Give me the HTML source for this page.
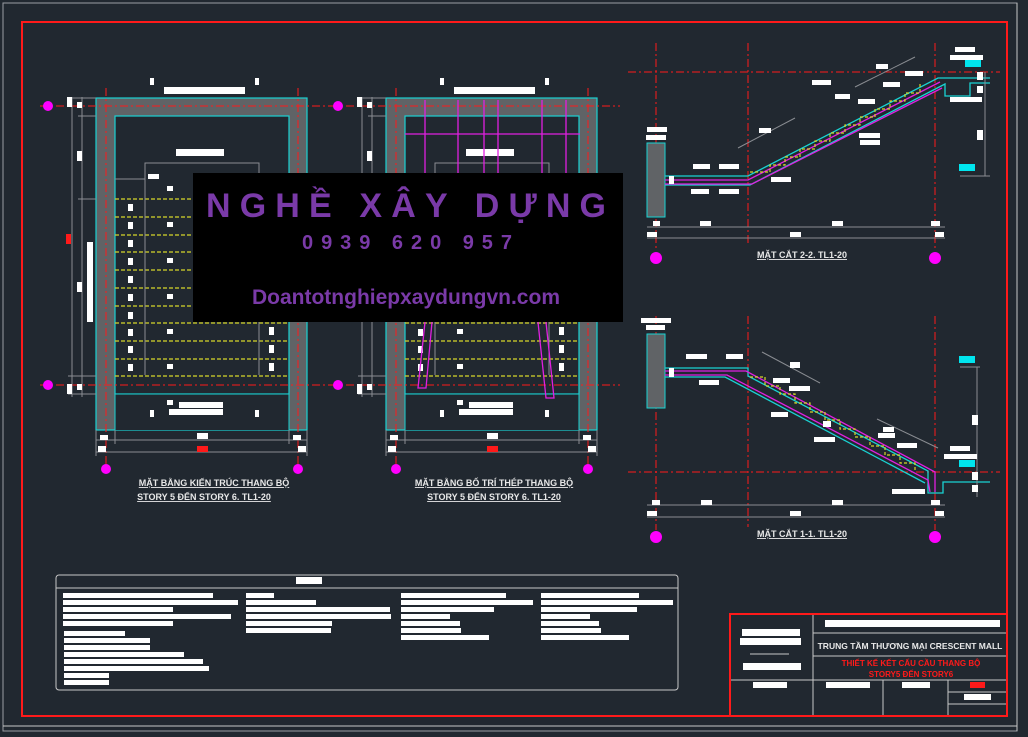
<!DOCTYPE html>
<html><head><meta charset="utf-8"><style>
html,body{margin:0;padding:0;background:#212830;}
svg{display:block;}
text{font-family:"Liberation Sans",sans-serif;}
</style></head><body>
<svg width="1028" height="737" viewBox="0 0 1028 737" xmlns="http://www.w3.org/2000/svg">
<defs>
<g id="plan">
<rect x="96" y="98" width="211" height="332" fill="#606366" stroke="#19d3d3" stroke-width="1.2"/>
<rect x="115" y="116" width="174" height="278" fill="#212830" stroke="#19d3d3" stroke-width="1.2"/>
<rect x="115" y="394" width="174" height="36" fill="#212830" stroke="none"/>
<line x1="115" y1="394" x2="289" y2="394" stroke="#19d3d3"/>
<line x1="115" y1="394" x2="115" y2="430" stroke="#19d3d3"/>
<line x1="289" y1="394" x2="289" y2="430" stroke="#19d3d3"/>
<g stroke="#d6d62a" stroke-dasharray="4,2" stroke-width="1.2">
<line x1="115" y1="199" x2="289" y2="199"/><line x1="115" y1="217" x2="289" y2="217"/><line x1="115" y1="235" x2="289" y2="235"/>
<line x1="115" y1="252" x2="289" y2="252"/><line x1="115" y1="270" x2="289" y2="270"/><line x1="115" y1="288" x2="289" y2="288"/>
<line x1="115" y1="306" x2="289" y2="306"/><line x1="115" y1="323" x2="289" y2="323"/><line x1="115" y1="341" x2="289" y2="341"/>
<line x1="115" y1="359" x2="289" y2="359"/><line x1="115" y1="376" x2="289" y2="376"/>
</g>
<g stroke="#ff1a1a" stroke-dasharray="8,3,2,3" stroke-width="1">
<line x1="40" y1="106" x2="330" y2="106"/><line x1="40" y1="385" x2="330" y2="385"/>
<line x1="106" y1="88" x2="106" y2="470"/><line x1="298" y1="88" x2="298" y2="470"/>
</g>
<g stroke="#8a8d92" fill="none">
<polyline points="145,375 145,163 259,163 259,375"/>
<line x1="115" y1="179" x2="145" y2="179"/>
<line x1="72" y1="97" x2="72" y2="397"/><line x1="82" y1="97" x2="82" y2="397"/>
<line x1="68" y1="98" x2="96" y2="98"/><line x1="78" y1="116" x2="96" y2="116"/><line x1="78" y1="199" x2="96" y2="199"/><line x1="68" y1="376" x2="96" y2="376"/><line x1="68" y1="394" x2="96" y2="394"/>
<line x1="96" y1="440" x2="307" y2="440"/><line x1="96" y1="452" x2="307" y2="452"/>
<line x1="96" y1="430" x2="96" y2="456"/><line x1="115" y1="430" x2="115" y2="444"/><line x1="289" y1="430" x2="289" y2="444"/><line x1="307" y1="430" x2="307" y2="456"/>
</g>
<g fill="#fff">
<rect x="164" y="87" width="81" height="7"/><rect x="176" y="149" width="48" height="7"/><rect x="148" y="174" width="11" height="5"/>
<rect x="67" y="97" width="5" height="10"/><rect x="77" y="102" width="5" height="6"/><rect x="77" y="151" width="5" height="10"/><rect x="87" y="242" width="6" height="80"/><rect x="77" y="282" width="5" height="10"/><rect x="67" y="384" width="5" height="10"/><rect x="77" y="384" width="5" height="6"/>
<rect x="128" y="204" width="5" height="7"/><rect x="128" y="222" width="5" height="7"/><rect x="128" y="240" width="5" height="7"/><rect x="128" y="258" width="5" height="7"/><rect x="128" y="276" width="5" height="7"/><rect x="128" y="294" width="5" height="7"/><rect x="128" y="312" width="5" height="7"/><rect x="128" y="329" width="5" height="7"/><rect x="128" y="346" width="5" height="7"/><rect x="128" y="364" width="5" height="7"/>
<rect x="167" y="186" width="6" height="5"/><rect x="167" y="222" width="6" height="5"/><rect x="167" y="258" width="6" height="5"/><rect x="167" y="294" width="6" height="5"/><rect x="167" y="329" width="6" height="5"/><rect x="167" y="364" width="6" height="5"/>
<rect x="269" y="327" width="5" height="8"/><rect x="269" y="345" width="5" height="8"/><rect x="269" y="363" width="5" height="8"/>
<rect x="167" y="400" width="6" height="5"/><rect x="179" y="402" width="44" height="6"/><rect x="169" y="409" width="54" height="6"/>
<rect x="150" y="410" width="4" height="7"/><rect x="255" y="410" width="4" height="7"/>
<rect x="197" y="433" width="11" height="6"/><rect x="100" y="435" width="8" height="5"/><rect x="293" y="435" width="8" height="5"/>
<rect x="98" y="446" width="8" height="6"/><rect x="298" y="446" width="8" height="6"/>
<rect x="150" y="78" width="4" height="7"/><rect x="255" y="78" width="4" height="7"/>
</g>
<rect x="66" y="234" width="5" height="10" fill="#ff1a1a"/>
<rect x="197" y="446" width="11" height="6" fill="#ff1a1a"/>
<g fill="#ff00ff"><circle cx="48" cy="106" r="5"/><circle cx="48" cy="385" r="5"/><circle cx="106" cy="469" r="5"/><circle cx="298" cy="469" r="5"/></g>
</g>
</defs>
<rect x="3" y="3" width="1014" height="728" fill="none" stroke="#9a9ea4" stroke-width="1"/>
<rect x="22" y="22" width="985" height="694" fill="none" stroke="#ff1a1a" stroke-width="2"/>

<use href="#plan"/>
<use href="#plan" transform="translate(290,0)"/>
<g stroke="#e020e0" stroke-width="1.3" fill="none">
<line x1="405" y1="134" x2="580" y2="134"/>
<line x1="425" y1="100" x2="425" y2="175"/><line x1="458" y1="100" x2="458" y2="175"/><line x1="484" y1="100" x2="484" y2="175"/><line x1="498" y1="100" x2="498" y2="175"/><line x1="542" y1="100" x2="542" y2="175"/><line x1="566" y1="100" x2="566" y2="175"/>
<polyline points="425,322 418,388 426,388 432,322"/><polyline points="538,322 546,398 554,398 546,322"/>
</g>
<text x="214" y="486" font-size="9" font-weight="bold" fill="#e8e8e8" text-anchor="middle" text-decoration="underline">MẶT BẰNG KIẾN TRÚC THANG BỘ</text>
<text x="204" y="500" font-size="9" font-weight="bold" fill="#e8e8e8" text-anchor="middle" text-decoration="underline">STORY 5 ĐẾN STORY 6. TL1-20</text>
<text x="494" y="486" font-size="9" font-weight="bold" fill="#e8e8e8" text-anchor="middle" text-decoration="underline">MẶT BẰNG BỐ TRÍ THÉP THANG BỘ</text>
<text x="494" y="500" font-size="9" font-weight="bold" fill="#e8e8e8" text-anchor="middle" text-decoration="underline">STORY 5 ĐẾN STORY 6. TL1-20</text>

<g>
<g stroke="#ff1a1a" stroke-dasharray="8,3,2,3">
<line x1="628" y1="72" x2="1000" y2="72"/>
<line x1="656" y1="43" x2="656" y2="250"/><line x1="748" y1="43" x2="748" y2="245"/><line x1="935" y1="43" x2="935" y2="250"/>
</g>
<rect x="647" y="143" width="18" height="74" fill="#606366" stroke="#19d3d3"/>
<polyline points="665,176 748,176 938,78 990,78" fill="none" stroke="#19d3d3" stroke-width="1.3"/>
<polyline points="665,185 750,185 945,84 945,96 970,96 970,83 990,83" fill="none" stroke="#19d3d3" stroke-width="1.3"/>
<polyline points="665,180 748,180 940,82" fill="none" stroke="#e020e0" stroke-width="1.3"/>
<polyline points="665,184 752,184 942,88" fill="none" stroke="#e020e0" stroke-width="1.3"/>
<polyline points="750,172 770,172 770,165 785,165 785,157 800,157 800,149 815,149 815,141 830,141 830,133 845,133 845,125 860,125 860,117 875,117 875,109 890,109 890,101 905,101 905,93 920,93 920,82" fill="none" stroke="#d6d62a" stroke-dasharray="3,2" stroke-width="1.2"/>
<g stroke="#8a8d92" fill="none"><line x1="738" y1="148" x2="795" y2="118"/><line x1="855" y1="87" x2="915" y2="57"/>
<line x1="647" y1="227" x2="945" y2="227"/><line x1="647" y1="238" x2="945" y2="238"/><line x1="985" y1="72" x2="985" y2="176"/><line x1="960" y1="176" x2="990" y2="176"/></g>
<g fill="#fff">
<rect x="647" y="127" width="20" height="5"/><rect x="646" y="135" width="20" height="5"/>
<rect x="693" y="164" width="17" height="5"/><rect x="719" y="164" width="20" height="5"/><rect x="691" y="189" width="18" height="5"/><rect x="719" y="189" width="20" height="5"/><rect x="669" y="176" width="5" height="8"/>
<rect x="771" y="177" width="20" height="5"/><rect x="759" y="128" width="12" height="5"/><rect x="859" y="133" width="21" height="5"/><rect x="812" y="80" width="19" height="5"/><rect x="860" y="140" width="20" height="5"/>
<rect x="876" y="64" width="12" height="5"/><rect x="883" y="82" width="17" height="5"/><rect x="905" y="71" width="18" height="5"/><rect x="858" y="99" width="17" height="5"/><rect x="835" y="94" width="15" height="5"/>
<rect x="955" y="47" width="20" height="5"/><rect x="950" y="55" width="33" height="5"/><rect x="950" y="97" width="32" height="5"/><rect x="977" y="72" width="6" height="8"/><rect x="977" y="86" width="6" height="7"/><rect x="977" y="130" width="6" height="10"/>
<rect x="653" y="221" width="7" height="5"/><rect x="700" y="221" width="11" height="5"/><rect x="832" y="221" width="11" height="5"/><rect x="931" y="221" width="9" height="5"/><rect x="647" y="232" width="10" height="5"/><rect x="790" y="232" width="11" height="5"/><rect x="935" y="232" width="9" height="5"/>
</g>
<rect x="965" y="60" width="16" height="7" fill="#00e5ee"/><rect x="959" y="164" width="16" height="7" fill="#00e5ee"/>
<g fill="#ff00ff"><circle cx="656" cy="258" r="6"/><circle cx="935" cy="258" r="6"/></g>
<text x="802" y="258" font-size="9" font-weight="bold" fill="#e8e8e8" text-anchor="middle" text-decoration="underline">MẶT CẮT 2-2. TL1-20</text>
</g>

<g>
<g stroke="#ff1a1a" stroke-dasharray="8,3,2,3">
<line x1="628" y1="472" x2="1000" y2="472"/>
<line x1="656" y1="316" x2="656" y2="530"/><line x1="748" y1="316" x2="748" y2="527"/><line x1="935" y1="316" x2="935" y2="530"/>
</g>
<rect x="647" y="334" width="18" height="74" fill="#606366" stroke="#19d3d3"/>
<polyline points="665,368 748,368 748,376 928,471 928,493 943,493 943,482 990,482" fill="none" stroke="#19d3d3" stroke-width="1.3"/>
<polyline points="665,377 725,377 925,483" fill="none" stroke="#19d3d3" stroke-width="1.3"/>
<polyline points="665,371 746,371 935,472 935,492" fill="none" stroke="#e020e0" stroke-width="1.3"/>
<polyline points="665,375 727,375 928,480 930,492" fill="none" stroke="#e020e0" stroke-width="1.3"/>
<polyline points="750,377 765,377 765,386 780,386 780,394 795,394 795,403 810,403 810,412 825,412 825,420 840,420 840,429 855,429 855,437 870,437 870,446 885,446 885,455 900,455 900,463 915,463 915,471" fill="none" stroke="#d6d62a" stroke-dasharray="3,2" stroke-width="1.2"/>
<g stroke="#8a8d92" fill="none"><line x1="762" y1="352" x2="820" y2="383"/><line x1="877" y1="419" x2="938" y2="448"/>
<line x1="647" y1="505" x2="945" y2="505"/><line x1="647" y1="517" x2="945" y2="517"/><line x1="977" y1="367" x2="977" y2="497"/><line x1="960" y1="367" x2="980" y2="367"/></g>
<g fill="#fff">
<rect x="641" y="318" width="30" height="5"/><rect x="646" y="325" width="19" height="5"/>
<rect x="686" y="354" width="21" height="5"/><rect x="726" y="354" width="17" height="5"/><rect x="699" y="380" width="20" height="5"/><rect x="669" y="368" width="5" height="9"/>
<rect x="773" y="378" width="17" height="5"/><rect x="789" y="386" width="21" height="5"/><rect x="771" y="412" width="17" height="5"/><rect x="814" y="437" width="21" height="5"/><rect x="878" y="433" width="17" height="5"/><rect x="897" y="443" width="20" height="5"/>
<rect x="790" y="362" width="10" height="6"/><rect x="823" y="421" width="8" height="6"/><rect x="883" y="427" width="11" height="5"/>
<rect x="950" y="446" width="20" height="5"/><rect x="944" y="454" width="33" height="5"/><rect x="892" y="489" width="33" height="5"/><rect x="972" y="415" width="6" height="10"/><rect x="972" y="472" width="6" height="8"/><rect x="972" y="485" width="6" height="7"/>
<rect x="652" y="500" width="8" height="5"/><rect x="701" y="500" width="11" height="5"/><rect x="832" y="500" width="11" height="5"/><rect x="931" y="500" width="9" height="5"/><rect x="647" y="511" width="10" height="5"/><rect x="790" y="511" width="11" height="5"/><rect x="935" y="511" width="9" height="5"/>
</g>
<rect x="959" y="356" width="16" height="7" fill="#00e5ee"/><rect x="959" y="460" width="16" height="7" fill="#00e5ee"/>
<g fill="#ff00ff"><circle cx="656" cy="537" r="6"/><circle cx="935" cy="537" r="6"/></g>
<text x="802" y="537" font-size="9" font-weight="bold" fill="#e8e8e8" text-anchor="middle" text-decoration="underline">MẶT CẮT 1-1. TL1-20</text>
</g>

<rect x="56" y="575" width="622" height="115" rx="3" fill="none" stroke="#c8c8c8"/>
<line x1="56" y1="588" x2="678" y2="588" stroke="#c8c8c8"/>
<g fill="#fff">
<rect x="296" y="577" width="26" height="7"/>
<rect x="63" y="593" width="150" height="5"/><rect x="63" y="600" width="175" height="5"/><rect x="63" y="607" width="110" height="5"/><rect x="63" y="614" width="168" height="5"/><rect x="63" y="621" width="110" height="5"/>
<rect x="64" y="631" width="61" height="5"/><rect x="64" y="638" width="86" height="5"/><rect x="64" y="645" width="86" height="5"/><rect x="64" y="652" width="120" height="5"/><rect x="64" y="659" width="139" height="5"/><rect x="64" y="666" width="145" height="5"/><rect x="64" y="673" width="45" height="5"/><rect x="64" y="680" width="45" height="5"/>
<rect x="246" y="593" width="28" height="5"/><rect x="246" y="600" width="70" height="5"/><rect x="246" y="607" width="144" height="5"/><rect x="246" y="614" width="145" height="5"/><rect x="246" y="621" width="86" height="5"/><rect x="246" y="628" width="85" height="5"/>
<rect x="401" y="593" width="105" height="5"/><rect x="401" y="600" width="132" height="5"/><rect x="401" y="607" width="93" height="5"/><rect x="401" y="614" width="49" height="5"/><rect x="401" y="621" width="59" height="5"/><rect x="401" y="628" width="60" height="5"/><rect x="401" y="635" width="88" height="5"/>
<rect x="541" y="593" width="98" height="5"/><rect x="541" y="600" width="132" height="5"/><rect x="541" y="607" width="96" height="5"/><rect x="541" y="614" width="49" height="5"/><rect x="541" y="621" width="58" height="5"/><rect x="541" y="628" width="60" height="5"/><rect x="541" y="635" width="88" height="5"/>
</g>

<rect x="730" y="614" width="277" height="102" fill="none" stroke="#ff1a1a" stroke-width="2"/>
<g stroke="#c8c8c8" fill="none">
<line x1="813" y1="615" x2="813" y2="715"/><line x1="813" y1="633" x2="1006" y2="633"/><line x1="813" y1="656" x2="1006" y2="656"/><line x1="731" y1="680" x2="1006" y2="680"/>
<line x1="883" y1="680" x2="883" y2="715"/><line x1="948" y1="680" x2="948" y2="715"/><line x1="948" y1="692" x2="1006" y2="692"/><line x1="948" y1="704" x2="1006" y2="704"/>
<line x1="750" y1="654" x2="789" y2="654"/>
<line x1="1017" y1="3" x2="1017" y2="731"/><line x1="3" y1="726" x2="1017" y2="726"/>
</g>
<g fill="#fff">
<rect x="825" y="620" width="175" height="7"/><rect x="742" y="629" width="58" height="7"/><rect x="740" y="638" width="61" height="7"/><rect x="743" y="663" width="58" height="7"/>
<rect x="753" y="682" width="34" height="6"/><rect x="826" y="682" width="44" height="6"/><rect x="902" y="682" width="28" height="6"/><rect x="964" y="694" width="27" height="6"/>
</g>
<rect x="970" y="682" width="15" height="6" fill="#ff1a1a"/>
<text x="910" y="649" font-size="8.5" font-weight="bold" fill="#e8e8e8" text-anchor="middle">TRUNG TẦM THƯƠNG MẠI CRESCENT MALL</text>
<text x="911" y="666" font-size="8" font-weight="bold" fill="#ff1a1a" text-anchor="middle">THIẾT KẾ KẾT CẤU CẦU THANG BỘ</text>
<text x="911" y="677" font-size="8" font-weight="bold" fill="#ff1a1a" text-anchor="middle">STORY5 ĐẾN STORY6</text>

<rect x="193" y="173" width="430" height="149" fill="#000"/>
<text x="406" y="217" font-size="34" font-weight="bold" fill="#7a3aa8" text-anchor="middle" textLength="400" lengthAdjust="spacing">NGHỀ XÂY DỰNG</text>
<text x="407" y="249" font-size="20" font-weight="bold" fill="#7a3aa8" text-anchor="middle" textLength="210" lengthAdjust="spacing">0939 620 957</text>
<text x="406" y="304" font-size="21" font-weight="bold" fill="#7a3aa8" text-anchor="middle">Doantotnghiepxaydungvn.com</text>
</svg>
</body></html>
